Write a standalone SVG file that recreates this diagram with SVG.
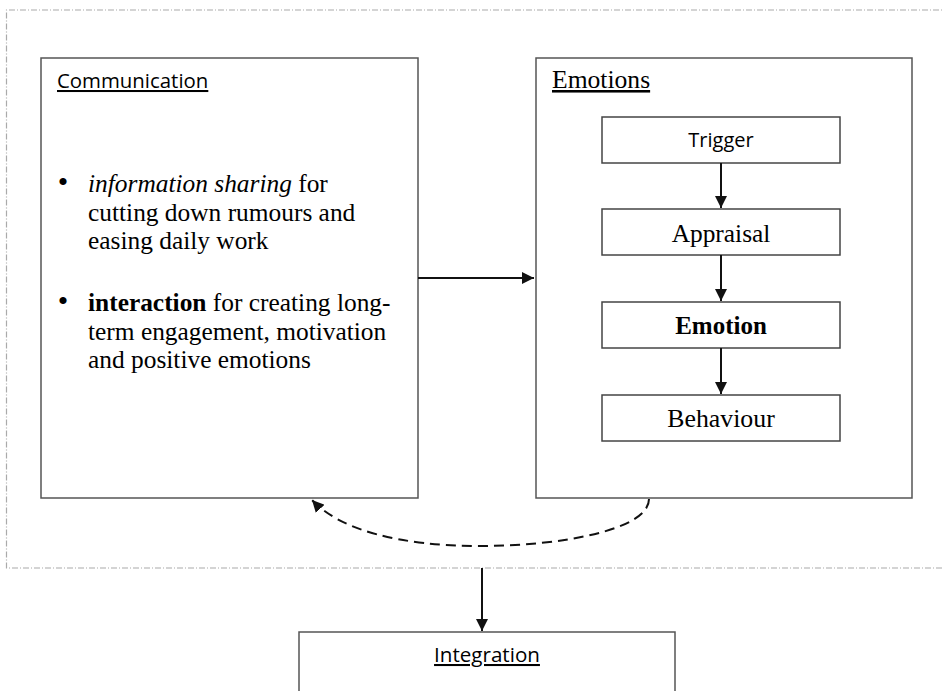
<svg xmlns="http://www.w3.org/2000/svg" width="944" height="691" viewBox="0 0 944 691">
<defs>
<style>
.box{fill:#fff;stroke:#555;stroke-width:1.5}
.ibox{fill:#fff;stroke:#444;stroke-width:1.5}
.bound{fill:none;stroke:#aaa;stroke-width:1.2;stroke-dasharray:6 2 1 2}
.conn{fill:none;stroke:#111;stroke-width:2}
.sans{font-family:"Open Sans","Liberation Sans",sans-serif;fill:#000}
.serif{font-family:"Liberation Serif","Times New Roman",serif;fill:#000}
</style>
<marker id="ah" viewBox="0 0 10 10" refX="10" refY="5" markerWidth="6" markerHeight="6" markerUnits="strokeWidth" orient="auto">
<path d="M0,0 L10,5 L0,10 z" fill="#111"/>
</marker>
</defs>
<rect width="944" height="691" fill="#fff"/>
<path class="bound" d="M950,10 H6.5 V568 H950"/>
<g id="communication">
<rect class="box" x="41" y="58" width="377" height="440"/>
<text class="sans" x="57" y="88" font-size="20.4" text-decoration="underline">Communication</text>
<text class="serif" font-size="25.4">
<tspan x="63" y="192" text-anchor="middle" font-size="30">•</tspan><tspan x="88" y="192" font-style="italic">information sharing</tspan><tspan> for</tspan>
<tspan x="88" y="220.5">cutting down rumours and</tspan>
<tspan x="88" y="249">easing daily work</tspan>
<tspan x="63" y="311" text-anchor="middle" font-size="30">•</tspan><tspan x="88" y="311" font-weight="bold">interaction</tspan><tspan> for creating long-</tspan>
<tspan x="88" y="339.5">term engagement, motivation</tspan>
<tspan x="88" y="368">and positive emotions</tspan>
</text>
</g>
<g id="emotions">
<rect class="box" x="536" y="58" width="376" height="440"/>
<text class="serif" x="552" y="88" font-size="25.6" text-decoration="underline">Emotions</text>
</g>
<g id="trigger">
<rect class="ibox" x="602" y="117" width="238" height="46"/>
<text class="sans" x="721" y="147" font-size="20" text-anchor="middle">Trigger</text>
</g>
<g id="appraisal">
<rect class="ibox" x="602" y="209" width="238" height="46"/>
<text class="serif" x="721" y="242" font-size="25.4" text-anchor="middle">Appraisal</text>
</g>
<g id="emotion">
<rect class="ibox" x="602" y="302" width="238" height="46"/>
<text class="serif" x="721" y="334" font-size="25" font-weight="bold" text-anchor="middle">Emotion</text>
</g>
<g id="behaviour">
<rect class="ibox" x="602" y="395" width="238" height="46"/>
<text class="serif" x="721" y="427" font-size="25.8" text-anchor="middle">Behaviour</text>
</g>
<g id="integration">
<rect class="box" x="299" y="632" width="376" height="70"/>
<text class="sans" x="487" y="662" font-size="20.6" text-anchor="middle" text-decoration="underline">Integration</text>
</g>
<g id="connectors">
<line class="conn" x1="418" y1="278" x2="534" y2="278" marker-end="url(#ah)"/>
<line class="conn" x1="721" y1="163" x2="721" y2="208" marker-end="url(#ah)"/>
<line class="conn" x1="721" y1="255" x2="721" y2="301" marker-end="url(#ah)"/>
<line class="conn" x1="721" y1="348" x2="721" y2="394" marker-end="url(#ah)"/>
<line class="conn" x1="482" y1="568" x2="482" y2="631" marker-end="url(#ah)"/>
<path class="conn" stroke-dasharray="10 6" d="M649,499 C649,530 560,546 480,546 C400,546 340,530 312,500" marker-end="url(#ah)"/>
</g>
</svg>
